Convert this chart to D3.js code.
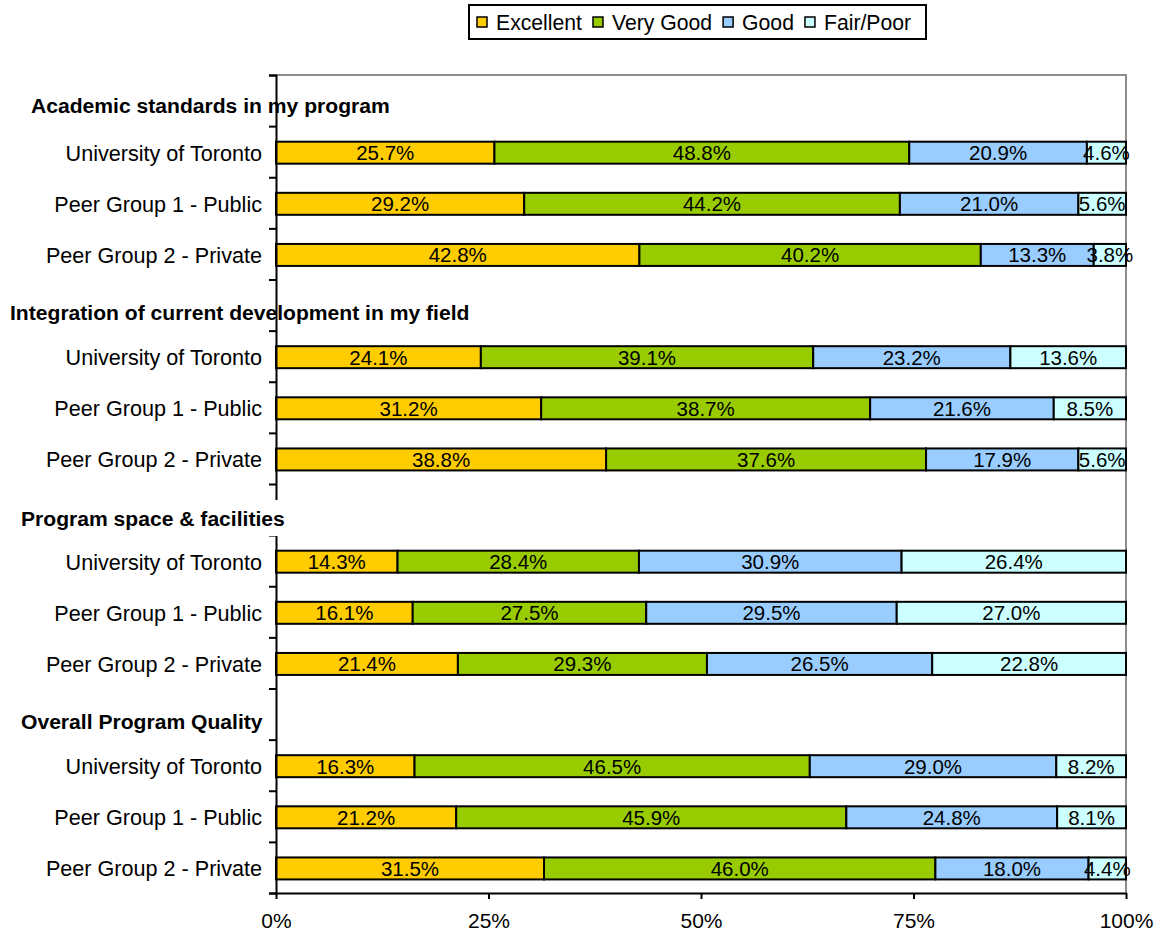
<!DOCTYPE html>
<html>
<head>
<meta charset="utf-8">
<script src="https://cdn.jsdelivr.net/npm/d3@7"></script>
<style>
  html, body { margin: 0; padding: 0; background: #fff; }
  svg { display: block; font-family: "Liberation Sans", Arial, sans-serif; }
</style>
</head>
<body>
<svg id="chart" width="1158" height="937"></svg>
<script>
// ---------- data ----------
const sections = [
  "Academic standards in my program",
  "Integration of current development in my field",
  "Program space & facilities",
  "Overall Program Quality"
];
const groups = ["University of Toronto", "Peer Group 1 - Public", "Peer Group 2 - Private"];
const seriesNames = ["Excellent", "Very Good", "Good", "Fair/Poor"];
// one value per bar: section 1 (UofT, PG1, PG2), section 2 ..., section 4
const excellent = [25.7, 29.2, 42.8, 24.1, 31.2, 38.8, 14.3, 16.1, 21.4, 16.3, 21.2, 31.5];
const veryGood  = [48.8, 44.2, 40.2, 39.1, 38.7, 37.6, 28.4, 27.5, 29.3, 46.5, 45.9, 46.0];
const good      = [20.9, 21.0, 13.3, 23.2, 21.6, 17.9, 30.9, 29.5, 26.5, 29.0, 24.8, 18.0];
const fairPoor  = [4.6, 5.6, 3.8, 13.6, 8.5, 5.6, 26.4, 27.0, 22.8, 8.2, 8.1, 4.4];
const xTickValues = [0, 25, 50, 75, 100];

// ---------- styles / layout ----------
const colors = ["#FFCC00", "#99CC00", "#99CCFF", "#CCFFFF"];
const plotLeft = 276, plotRight = 1126, plotTop = 75, plotBottom = 893;
const headingLayout = [ // x position, vertical offset from row centre, opaque background
  { x: 31, dy: 5.5, bg: false },
  { x: 10, dy: 7.5, bg: false },
  { x: 21, dy: 9.5, bg: true },
  { x: 21, dy: 8, bg: true }
];

const svg = d3.select("#chart");

// rows: per section one heading row + three bar rows
const rows = [];
sections.forEach((s, si) => {
  rows.push({ id: "h" + si, type: "heading", section: si });
  groups.forEach((g, gi) => rows.push({ id: "b" + si + "-" + gi, type: "bar", section: si, group: gi, idx: si * 3 + gi }));
});

const bars = rows.filter(r => r.type === "bar").map(r => ({
  id: r.id, label: groups[r.group],
  "Excellent": excellent[r.idx], "Very Good": veryGood[r.idx],
  "Good": good[r.idx], "Fair/Poor": fairPoor[r.idx]
}));

const x = d3.scaleLinear().domain([0, 1]).range([plotLeft, plotRight]);
const y = d3.scaleBand().domain(rows.map(r => r.id)).range([plotTop, plotBottom]).paddingInner(0.57).paddingOuter(0.285);
const yRows = d3.scaleLinear().domain([0, rows.length]).range([plotTop, plotBottom]);
const rowCenter = id => y(id) + y.bandwidth() / 2;

const stacked = d3.stack().keys(seriesNames).offset(d3.stackOffsetExpand)(bars);

// headings
function drawHeading(i) {
  const L = headingLayout[i];
  const cy = rowCenter("h" + i) + L.dy;
  const g = svg.append("g");
  const t = g.append("text")
    .attr("x", L.x).attr("y", cy).attr("dy", "0.35em")
    .attr("font-size", 21.1).attr("font-weight", "bold").attr("fill", "#000")
    .text(sections[i]);
  if (L.bg) {
    const w = t.node().getComputedTextLength();
    g.insert("rect", "text")
      .attr("x", L.x - 4).attr("y", cy - 19)
      .attr("width", w + 10).attr("height", 36)
      .attr("fill", "#fff");
  }
}
headingLayout.forEach((L, i) => { if (!L.bg) drawHeading(i); });

// plot border (top & right, grey)
svg.append("path")
  .attr("d", `M${plotLeft},${plotTop}H${plotRight}V${plotBottom}`)
  .attr("fill", "none").attr("stroke", "#8c8c8c").attr("stroke-width", 2);

// bars
const layer = svg.append("g").selectAll("g").data(stacked).join("g")
  .attr("fill", (d, i) => colors[i]);
layer.selectAll("rect").data(d => d).join("rect")
  .attr("x", d => x(d[0]))
  .attr("y", d => y(d.data.id) + 1)
  .attr("width", d => x(d[1]) - x(d[0]))
  .attr("height", y.bandwidth())
  .attr("stroke", "#000").attr("stroke-width", 2);

// left axis (ticks at row boundaries)
const leftAxis = svg.append("g").attr("transform", `translate(${plotLeft},0)`)
  .call(d3.axisLeft(yRows).tickValues(d3.range(rows.length + 1)).tickFormat("").tickSize(7).tickSizeOuter(7));
leftAxis.selectAll("path, line").attr("stroke", "#000").attr("stroke-width", 2);

// bottom axis
const bottomAxis = svg.append("g").attr("transform", `translate(0,${plotBottom})`)
  .call(d3.axisBottom(x).tickValues(xTickValues.map(v => v / 100))
    .tickFormat(d => Math.round(d * 100) + "%").tickSize(6).tickSizeOuter(0).tickPadding(14));
bottomAxis.selectAll("path, line").attr("stroke", "#000").attr("stroke-width", 2);
bottomAxis.selectAll("text").attr("font-size", 21).attr("fill", "#000")
  .attr("font-family", "Liberation Sans, Arial, sans-serif");

// headings with opaque background drawn over axis
headingLayout.forEach((L, i) => { if (L.bg) drawHeading(i); });

// category labels
svg.append("g").selectAll("text").data(bars).join("text")
  .attr("x", 262).attr("y", d => rowCenter(d.id) + 1.5).attr("dy", "0.35em")
  .attr("text-anchor", "end").attr("font-size", 21.6).attr("fill", "#000")
  .text(d => d.label);

// data labels
const labelG = svg.append("g");
stacked.forEach((s, si) => {
  labelG.selectAll(null).data(s).join("text")
    .attr("x", d => (x(d[0]) + x(d[1])) / 2)
    .attr("y", d => rowCenter(d.data.id) + 1).attr("dy", "0.36em")
    .attr("text-anchor", "middle").attr("font-size", 20.5).attr("fill", "#000")
    .text(d => d.data[seriesNames[si]].toFixed(1) + "%");
});

// legend
const legend = svg.append("g");
const legendBox = legend.append("rect")
  .attr("x", 469).attr("y", 5).attr("width", 457).attr("height", 34)
  .attr("fill", "#fff").attr("stroke", "#000").attr("stroke-width", 2);
let lx = 477;
seriesNames.forEach((name, i) => {
  legend.append("rect").attr("x", lx).attr("y", 17).attr("width", 10).attr("height", 10)
    .attr("fill", colors[i]).attr("stroke", "#000").attr("stroke-width", 1.5);
  const t = legend.append("text").attr("x", lx + 19).attr("y", 23).attr("dy", "0.35em")
    .attr("font-size", 21.2).attr("fill", "#000").text(name);
  lx = lx + 19 + t.node().getComputedTextLength() + 11;
});
legendBox.attr("width", 926 - 469);
</script>
</body>
</html>
